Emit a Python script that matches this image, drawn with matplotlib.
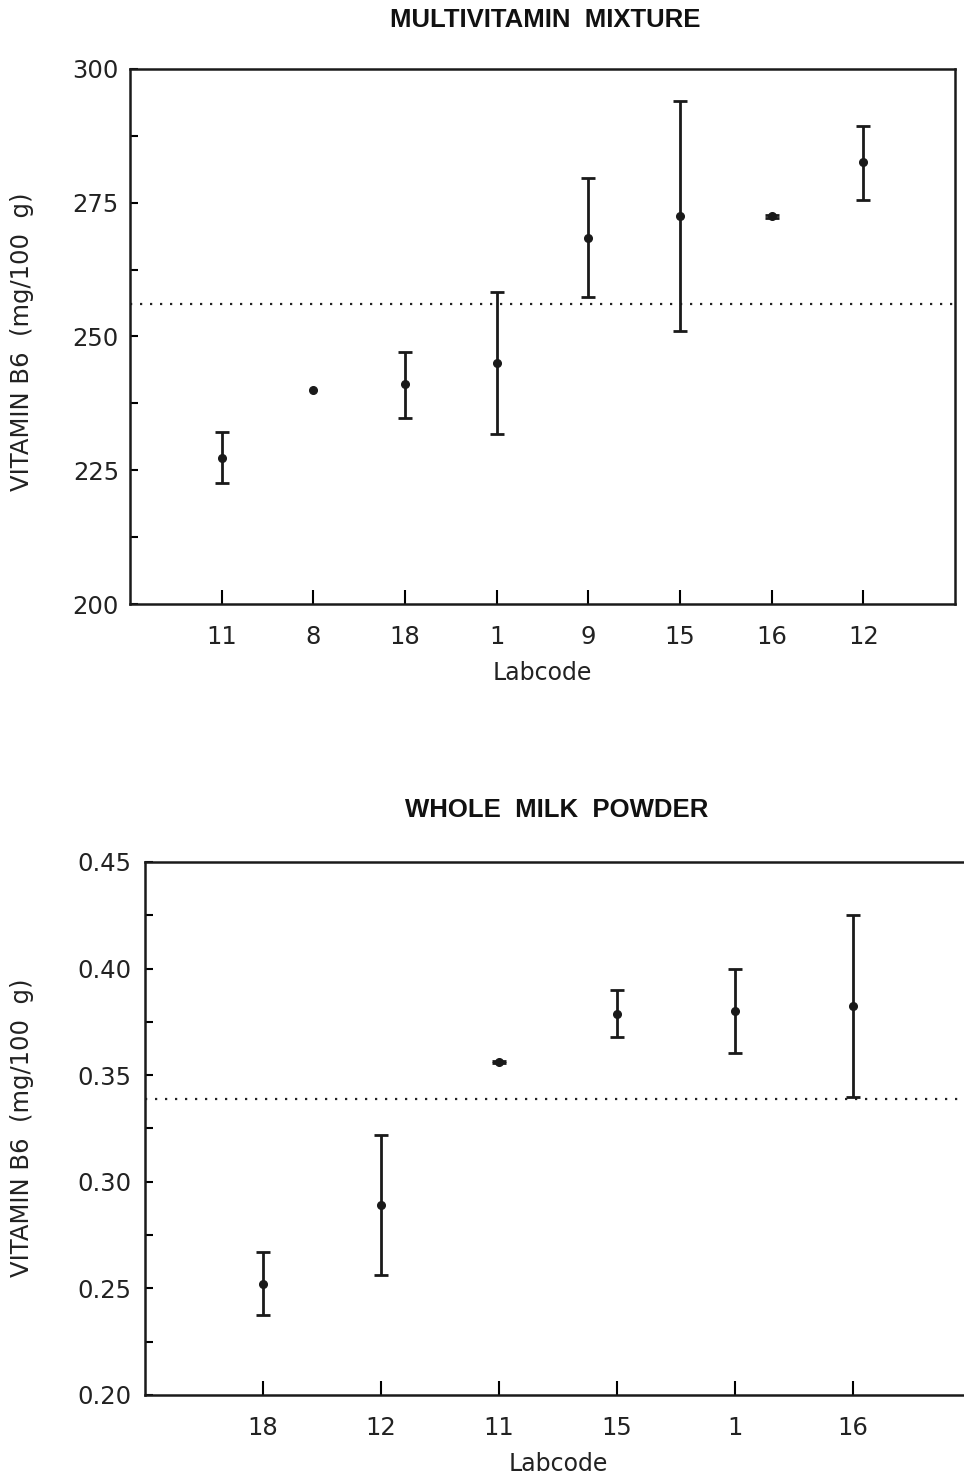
import matplotlib
matplotlib.use("Agg")
import matplotlib.pyplot as plt
from matplotlib.ticker import MultipleLocator, FixedLocator

plt.rcParams['font.family'] = ['DejaVu Sans']

# ---- data: Multivitamin mixture ----
mv_labs = ['11', '8', '18', '1', '9', '15', '16', '12']
mv_mean = [227.3, 240.0, 241.1, 245.0, 268.4, 272.5, 272.5, 282.6]
mv_low = [222.6, 240.0, 234.8, 231.8, 257.4, 251.0, 272.2, 275.5]
mv_high = [232.1, 240.0, 247.1, 258.3, 279.6, 294.0, 272.8, 289.3]
mv_ref = 256.1

# ---- data: Whole milk powder ----
wm_labs = ['18', '12', '11', '15', '1', '16']
wm_mean = [0.252, 0.289, 0.356, 0.3787, 0.380, 0.3825]
wm_low = [0.2375, 0.2563, 0.3555, 0.368, 0.3604, 0.3398]
wm_high = [0.267, 0.322, 0.3565, 0.390, 0.3998, 0.425]
wm_ref = 0.339

W, H = 964, 1475
fig = plt.figure(figsize=(W / 100, H / 100), dpi=100)
INK = '#1a1a1a'


def make_panel(rect, labs, mean, low, high, ref, ylim, major, minor, fmt,
               title, title_x, title_y, ylab_y, ypad):
    ax = fig.add_axes(rect)
    n = len(labs)
    xs = list(range(1, n + 1))
    ex, em, el, eh = [], [], [], []
    for x, m, l, h in zip(xs, mean, low, high):
        if h > l:
            ex.append(x); em.append(m); el.append(m - l); eh.append(h - m)
    ax.errorbar(ex, em, yerr=[el, eh], fmt='none', ecolor=INK, elinewidth=2.0,
                capsize=5, capthick=2.0, zorder=3)
    ax.plot(xs, mean, 'o', color=INK, ms=5.5, zorder=4)
    ax.axhline(ref, color='#222222', lw=1.6, ls=(0, (1, 3.5)), zorder=2)
    ax.set_xlim(0, n + 1)
    ax.set_ylim(*ylim)
    ax.xaxis.set_major_locator(FixedLocator(xs))
    ax.set_xticklabels(labs)
    ax.yaxis.set_major_locator(MultipleLocator(major))
    ax.yaxis.set_minor_locator(MultipleLocator(minor))
    ax.yaxis.set_major_formatter(plt.FuncFormatter(lambda v, p: fmt.format(v)))
    ax.tick_params(axis='y', which='both', direction='in', length=6, width=1.5,
                   labelsize=17.5, pad=ypad, right=False, labelcolor='#222222')
    ax.tick_params(axis='x', which='both', direction='in', length=10, width=1.5,
                   labelsize=17.5, pad=15, top=False, labelcolor='#222222')
    for s in ax.spines.values():
        s.set_linewidth(1.8)
        s.set_color(INK)
    ax.set_xlabel('Labcode', fontsize=17, labelpad=9, color='#222222')
    fig.text(22 / W, 1 - ylab_y / H, 'VITAMIN B6  (mg/100  g)', rotation=90,
             ha='center', va='center', fontsize=17.5, color='#222222')
    fig.text(title_x / W, 1 - title_y / H, title, ha='center', va='center',
             fontsize=18.5, fontweight='bold', family='Liberation Sans', color='#111111')
    return ax


# top panel: left 130, right 955, top 69, bottom 604
make_panel([130 / W, 1 - 604 / H, (955 - 130) / W, (604 - 69) / H],
           mv_labs, mv_mean, mv_low, mv_high, mv_ref, (200, 300), 25, 12.5, '{:.0f}',
           'MULTIVITAMIN  MIXTURE', 545, 20, 342, 8)

# bottom panel: left 145, right 971, top 862, bottom 1395
make_panel([145 / W, 1 - 1395 / H, (971 - 145) / W, (1395 - 862) / H],
           wm_labs, wm_mean, wm_low, wm_high, wm_ref, (0.20, 0.45), 0.05, 0.025, '{:.2f}',
           'WHOLE  MILK  POWDER', 557, 810, 1128, 10)

fig.savefig('out.png', dpi=100)
